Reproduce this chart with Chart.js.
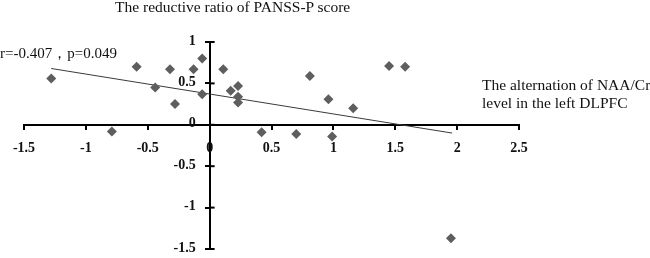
<!DOCTYPE html>
<html>
<head>
<meta charset="utf-8">
<script src="https://cdn.jsdelivr.net/npm/chart.js@4/dist/chart.umd.min.js"></script>
<style>
  html, body { margin: 0; padding: 0; background: #fff; }
  #wrap { position: relative; width: 650px; height: 258px; font-family: "Liberation Serif", "DejaVu Serif", serif; color: #111; }
  #wrap canvas { position: absolute; left: 0; top: 0; }
  .lbl { position: absolute; white-space: nowrap; line-height: 18px; }
</style>
</head>
<body>
<div id="wrap">
  <canvas id="c" width="650" height="258"></canvas>
  <div class="lbl" style="left:115px; top:-2px; font-size:15.5px;">The reductive ratio of PANSS-P score</div>
  <div class="lbl" style="left:0px; top:44px; font-size:15px;">r=-0.407，p=0.049</div>
  <div class="lbl" style="left:482px; top:76px; font-size:15.5px;">The alternation of NAA/Cr<br>level in the left DLPFC</div>
</div>
<script>
/* NAA/Cr change vs PANSS-P reductive ratio scatter */
const xValues = [-1.28, -0.59, -0.44, -0.32, -0.28, -0.13, -0.06, -0.06, 0.11, 0.17, 0.23, 0.23, 0.23,
  0.81, 1.45, 1.58, 0.96, 1.16, 0.99, -0.79, 0.42, 0.70, 1.95];
const yValues = [0.56, 0.70, 0.45, 0.67, 0.25, 0.67, 0.80, 0.37, 0.67, 0.41, 0.47, 0.34, 0.27,
  0.59, 0.71, 0.70, 0.31, 0.20, -0.14, -0.08, -0.09, -0.11, -1.37];
const trendX = [-1.28, 1.96];
const trendY = [0.68, -0.10];

const xTicks = [-1.5, -1, -0.5, 0, 0.5, 1, 1.5, 2, 2.5];
const yTicks = [-1.5, -1, -0.5, 0, 0.5, 1];

const tickFont = "bold 14px 'Liberation Serif'";

// axes sit at the origin; Chart.js ignores tick padding there, so the
// labels (and the right half of the y ticks, which cross the axis) are drawn here
const originAxes = {
  id: "originAxes",
  afterDraw(chart) {
    const { ctx, scales } = chart;
    const x0 = scales.x.getPixelForValue(0);
    const y0 = scales.y.getPixelForValue(0);
    ctx.save();
    ctx.strokeStyle = "#000";
    ctx.lineWidth = 2;
    yTicks.forEach((v) => {
      const py = scales.y.getPixelForValue(v);
      ctx.beginPath();
      ctx.moveTo(x0, py);
      ctx.lineTo(x0 + 5, py);
      ctx.stroke();
    });
    ctx.font = tickFont;
    ctx.fillStyle = "#111";
    ctx.textBaseline = "middle";
    ctx.textAlign = "center";
    xTicks.forEach((v) => ctx.fillText(String(v), scales.x.getPixelForValue(v), y0 + 24));
    ctx.textAlign = "right";
    yTicks.forEach((v) => ctx.fillText(String(v), x0 - 14, scales.y.getPixelForValue(v) - 1));
    ctx.restore();
  },
};

new Chart(document.getElementById("c"), {
  type: "scatter",
  data: {
    datasets: [
      {
        data: xValues.map((x, i) => ({ x, y: yValues[i] })),
        pointStyle: "rectRot",
        pointRadius: 5,
        backgroundColor: "#5e5e5e",
        borderColor: "#5e5e5e",
        borderWidth: 0,
        order: 1,
      },
      {
        data: trendX.map((x, i) => ({ x, y: trendY[i] })),
        showLine: true,
        pointRadius: 0,
        borderColor: "#3a3a3a",
        borderWidth: 1,
        order: 2,
      },
    ],
  },
  options: {
    responsive: false,
    animation: false,
    layout: { padding: { left: 24, right: 131, top: 42, bottom: 9 } },
    plugins: { legend: { display: false }, tooltip: { enabled: false } },
    scales: {
      x: {
        type: "linear",
        min: -1.5,
        max: 2.5,
        position: { y: 0 },
        afterBuildTicks: (s) => (s.ticks = xTicks.map((v) => ({ value: v }))),
        grid: { drawOnChartArea: false, drawTicks: true, tickLength: 4, color: "#000", lineWidth: 2 },
        border: { color: "#000", width: 2 },
        ticks: { display: false },
      },
      y: {
        type: "linear",
        min: -1.5,
        max: 1,
        position: { x: 0 },
        afterBuildTicks: (s) => (s.ticks = yTicks.map((v) => ({ value: v }))),
        grid: { drawOnChartArea: false, drawTicks: true, tickLength: 4, color: "#000", lineWidth: 2 },
        border: { color: "#000", width: 2 },
        ticks: { display: false },
      },
    },
  },
  plugins: [originAxes],
});
</script>
</body>
</html>
